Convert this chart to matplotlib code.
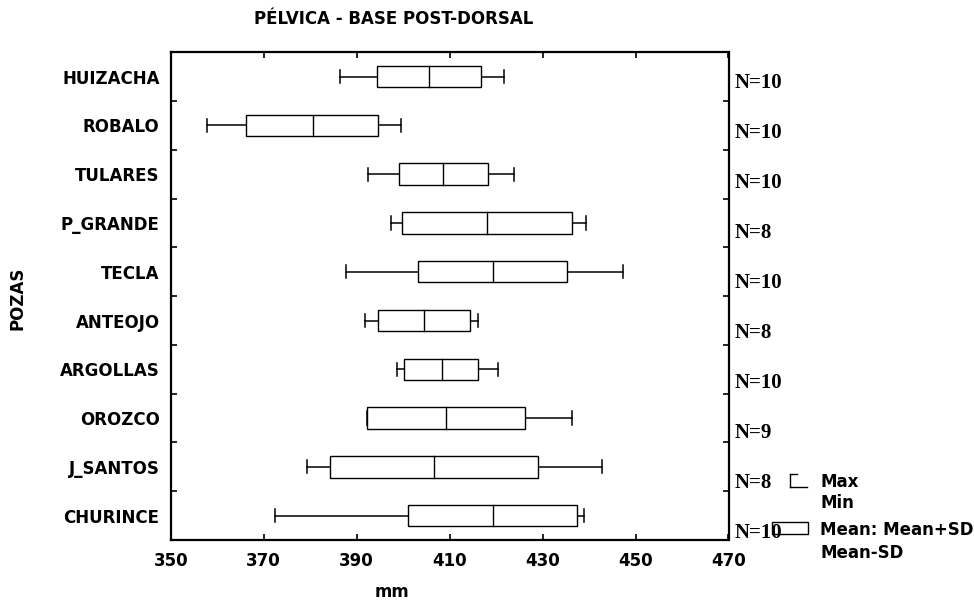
import matplotlib.pyplot as plt
import numpy as np
from matplotlib.patches import Rectangle
from matplotlib.lines import Line2D

# Datos (mm)
pozas = ['HUIZACHA', 'ROBALO', 'TULARES', 'P_GRANDE', 'TECLA',
         'ANTEOJO', 'ARGOLLAS', 'OROZCO', 'J_SANTOS', 'CHURINCE']
n_vals = [10, 10, 10, 8, 10, 8, 10, 9, 8, 10]
mins = [386.4, 357.8, 392.5, 397.3, 387.7, 391.7, 398.6, 392.3, 379.3, 372.4]
sd_lo = [394.4, 366.3, 399.1, 399.8, 403.3, 394.6, 400.2, 392.3, 384.2, 401.1]
means = [405.5, 380.7, 408.6, 418.1, 419.4, 404.4, 408.3, 409.3, 406.6, 419.4]
sd_hi = [416.7, 394.6, 418.3, 436.4, 435.3, 414.3, 416.1, 426.2, 429.0, 437.5]
maxs = [421.7, 399.6, 423.9, 439.4, 447.4, 416.2, 420.5, 436.4, 442.8, 439.0]

plt.rcParams['font.family'] = ['DejaVu Sans']
plt.rcParams['font.weight'] = 'bold'

W, H = 974, 604
fig = plt.figure(figsize=(W / 100, H / 100), dpi=100)
ax = fig.add_axes([170.7 / W, 1 - 540 / H, 557.8 / W, 487.7 / H])

y = np.arange(len(pozas))
h = 0.44
cap = 0.135
for i in y:
    # bigotes min / max
    ax.plot([mins[i], sd_lo[i]], [i, i], color='black', lw=1.1)
    ax.plot([sd_hi[i], maxs[i]], [i, i], color='black', lw=1.1)
    ax.plot([mins[i], mins[i]], [i - cap, i + cap], color='black', lw=1.1)
    ax.plot([maxs[i], maxs[i]], [i - cap, i + cap], color='black', lw=1.1)
    # caja media +- SD
    ax.add_patch(Rectangle((sd_lo[i], i - h / 2), sd_hi[i] - sd_lo[i], h,
                           facecolor='white', edgecolor='black', lw=1.0, zorder=3))
    ax.plot([means[i], means[i]], [i - h / 2, i + h / 2], color='black', lw=1.0, zorder=4)
    ax.text(735 / W, 1 - (83 + 50 * i) / H, f'N={n_vals[i]}', transform=fig.transFigure,
            ha='left', va='center', fontsize=15, fontweight='bold',
            family='Liberation Serif')

ax.set_xlim(350, 470)
ax.set_ylim(len(pozas) - 0.5, -0.5)
ax.set_xticks(np.arange(350, 471, 20))
ax.set_yticks(y)
ax.set_yticklabels(pozas)
ax.set_yticks(np.arange(-0.5, len(pozas), 1), minor=True)
ax.tick_params(axis='y', which='major', length=0, labelsize=12, pad=8)
ax.tick_params(axis='y', which='minor', direction='in', length=4, width=1.2,
               left=True, right=True)
ax.tick_params(axis='x', direction='in', length=4, width=1.2, top=True,
               labelsize=12, pad=9)
for s in ax.spines.values():
    s.set_linewidth(1.6)

fig.text(392 / W, 1 - 592 / H, 'mm', ha='center', va='center', fontsize=12)
fig.text(18 / W, 1 - 298 / H, 'POZAS', ha='center', va='center', fontsize=12,
         rotation=90)
fig.text(394 / W, 1 - 19 / H, 'PÉLVICA - BASE POST-DORSAL', ha='center', va='center',
         fontsize=12)

# leyenda manual
def fx(px):
    return px / W


def fy(py):
    return 1 - py / H


fig.add_artist(Line2D([fx(790), fx(790)], [fy(474), fy(487)], color='black', lw=1.0))
fig.add_artist(Line2D([fx(790), fx(797)], [fy(474), fy(474)], color='black', lw=1.0))
fig.add_artist(Line2D([fx(790), fx(807)], [fy(487), fy(487)], color='black', lw=1.0))
fig.add_artist(Rectangle((fx(772), fy(534)), 36 / W, 12 / H,
                         facecolor='none', edgecolor='black', lw=1.0,
                         transform=fig.transFigure))
fig.text(fx(820), fy(482), 'Max', fontsize=12, va='center')
fig.text(fx(820), fy(503), 'Min', fontsize=12, va='center')
fig.text(fx(820), fy(530), 'Mean: Mean+SD', fontsize=12, va='center')
fig.text(fx(820), fy(553), 'Mean-SD', fontsize=12, va='center')

fig.savefig('out.png', dpi=100)
